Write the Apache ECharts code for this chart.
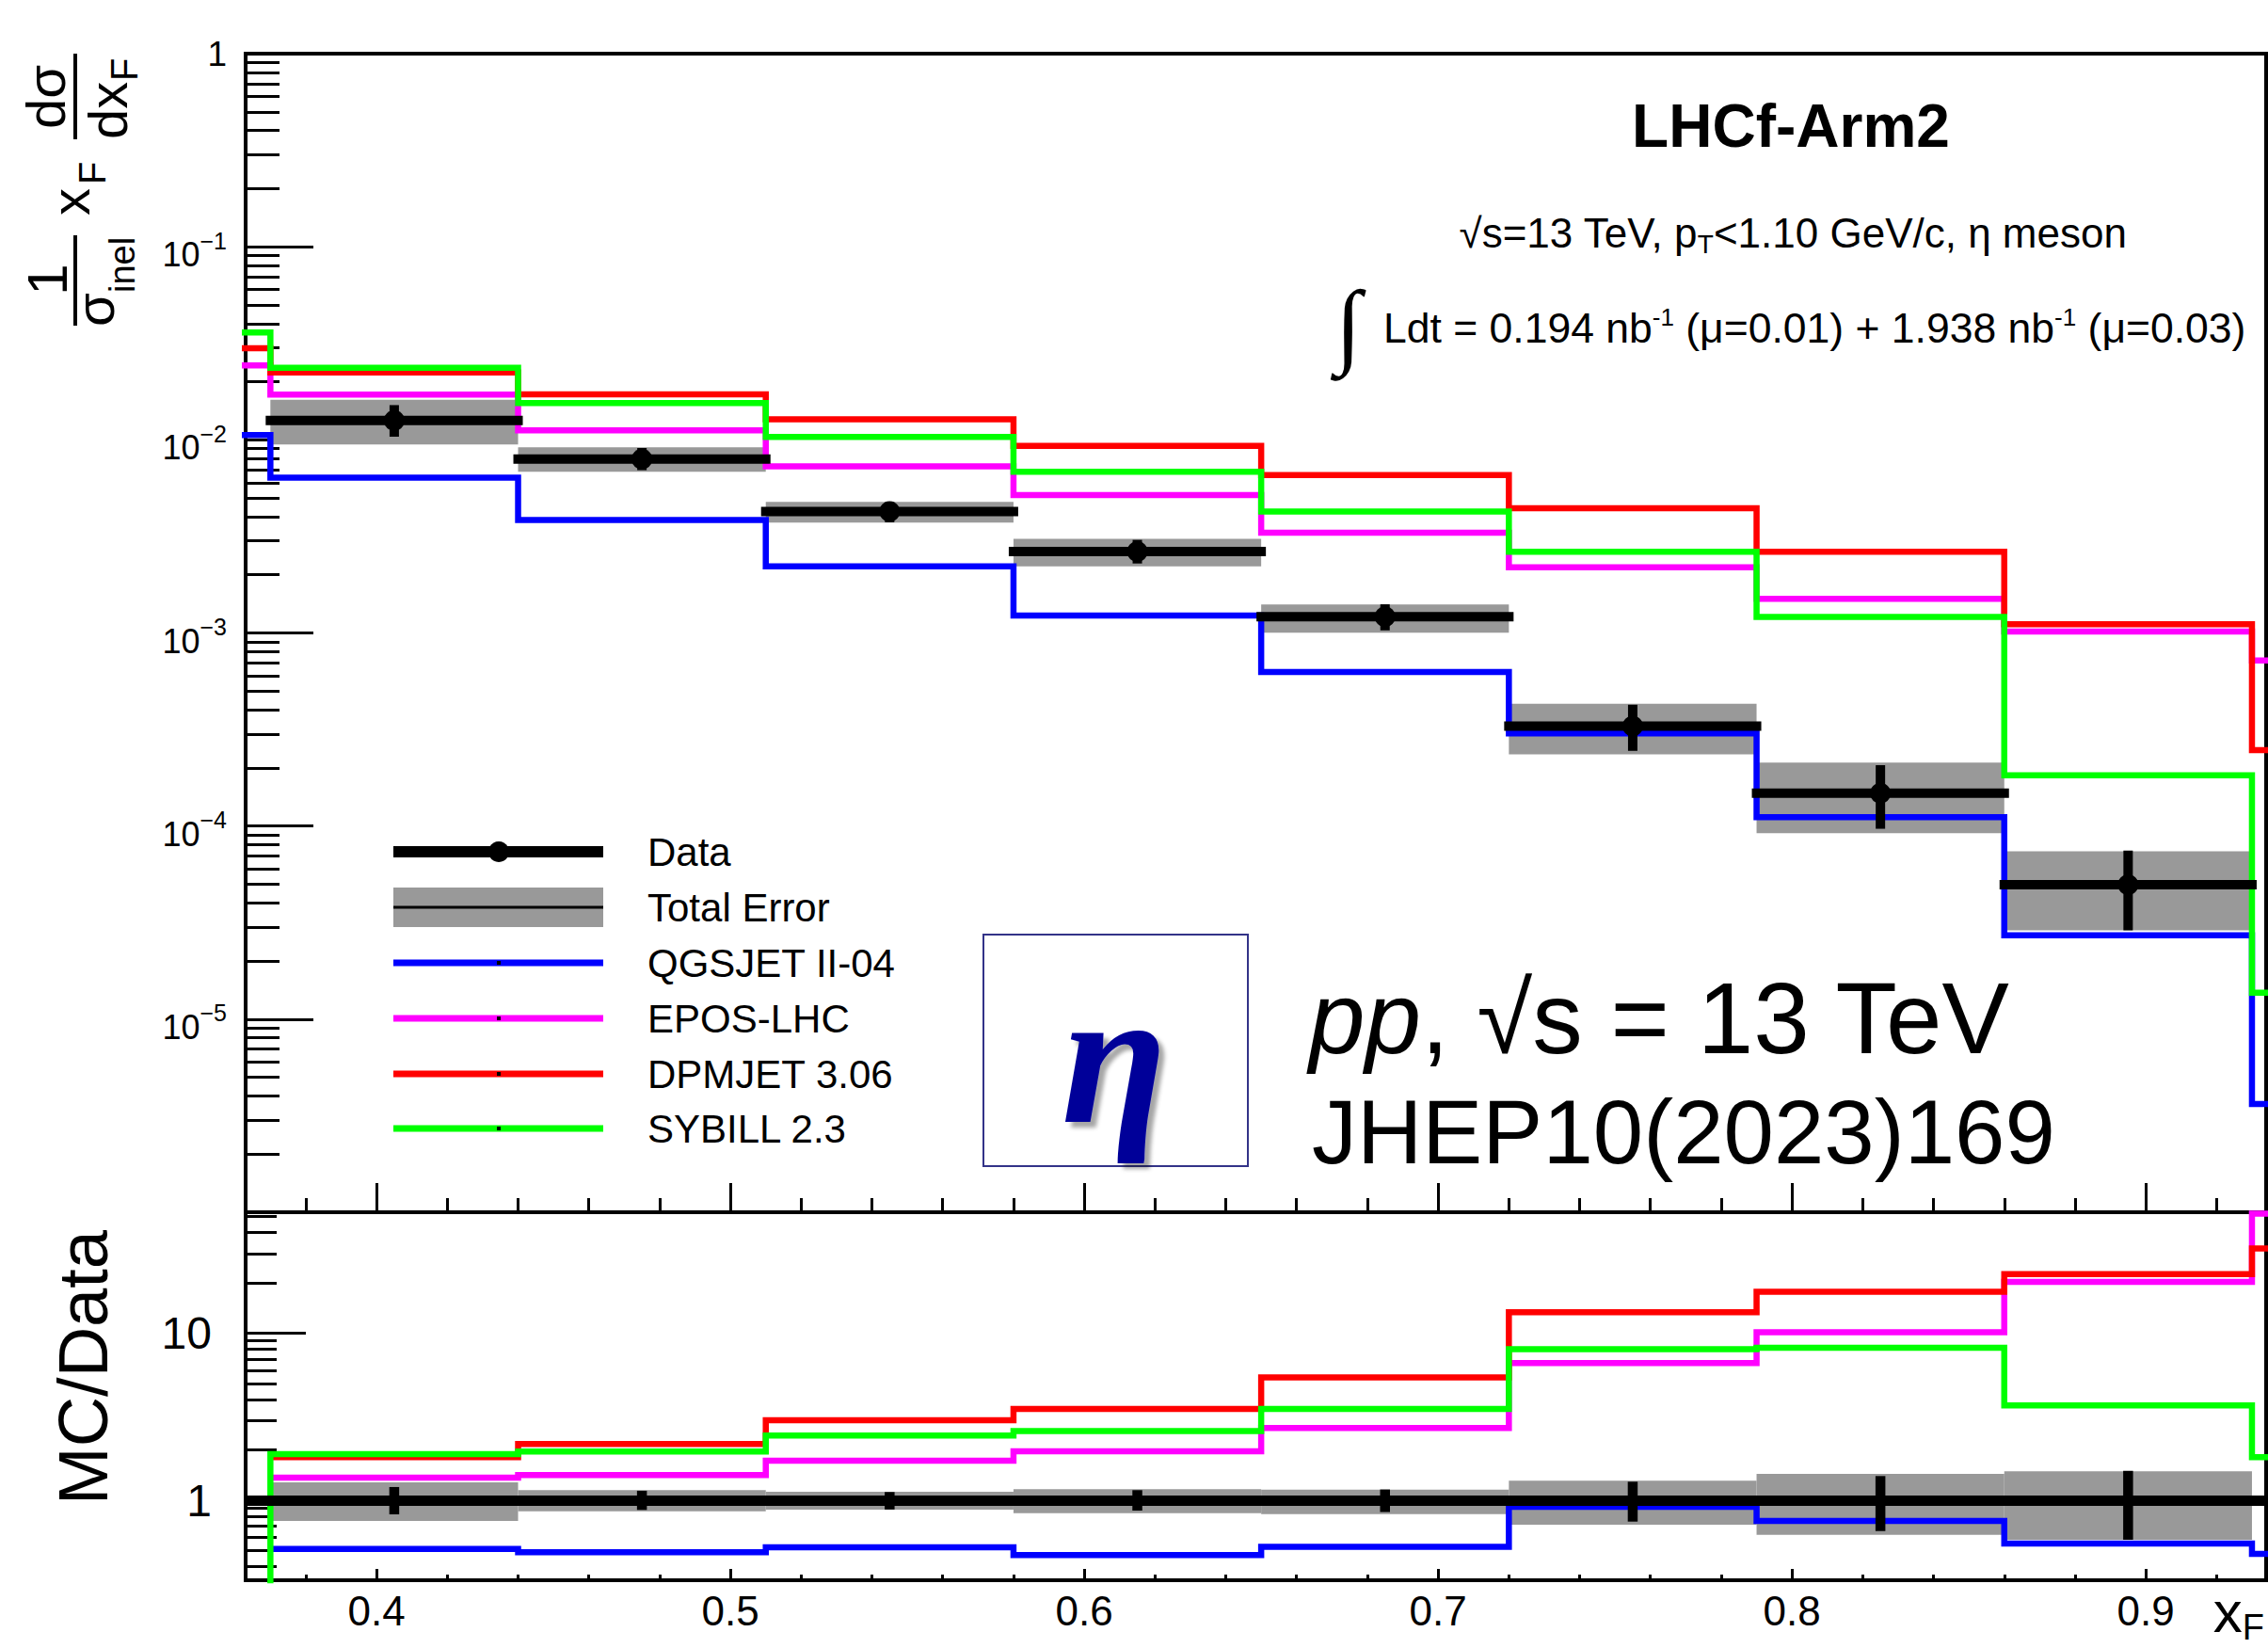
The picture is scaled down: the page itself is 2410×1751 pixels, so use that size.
<!DOCTYPE html>
<html><head><meta charset="utf-8">
<script src="https://cdn.jsdelivr.net/npm/echarts@6/dist/echarts.min.js"></script>
<style>html,body{margin:0;padding:0;background:#fff;}#c{width:2410px;height:1751px;}</style>
</head><body><div id="c"></div>
<script>
// ---------------- data ----------------
const edges = [0.30, 0.37, 0.44, 0.51, 0.58, 0.65, 0.72, 0.79, 0.86, 0.93, 1.00];   // MC histogram bin edges
const dataEdges = [0.37, 0.44, 0.51, 0.58, 0.65, 0.72, 0.79, 0.86, 0.93];           // data bin edges
const dataValues = [0.01261, 0.00796, 0.00425, 0.00264, 0.001213, 0.000329, 0.000148, 4.97e-5];
const statLo = [0.823, 0.875, 0.880, 0.867, 0.850, 0.745, 0.654, 0.580];  // relative stat error (ratio)
const statHi = [1.200, 1.140, 1.120, 1.149, 1.160, 1.291, 1.396, 1.500];
const totLo  = [0.751, 0.859, 0.878, 0.837, 0.826, 0.714, 0.621, 0.580];  // relative total error (ratio)
const totHi  = [1.280, 1.149, 1.124, 1.164, 1.158, 1.308, 1.438, 1.489];

const qgsjet = [0.0106, 0.00638, 0.00385, 0.00221, 0.00123, 0.000628, 0.000302, 0.000111, 2.72e-5, 3.64e-6];
const epos   = [0.0243, 0.01714, 0.01119, 0.00728, 0.00518, 0.00330, 0.00219, 0.00150, 0.001016, 0.000721];
const dpmjet = [0.0298, 0.0223, 0.0172, 0.01276, 0.0093, 0.00657, 0.00442, 0.00263, 0.00111, 0.000247];
const sybill = [0.0360, 0.0236, 0.01549, 0.01035, 0.00684, 0.00425, 0.00263, 0.00121, 0.000183, 1.37e-5];

const qgsjetRatio = [null, 0.511, 0.488, 0.522, 0.469, 0.527, 0.913, 0.751, 0.550, 0.477];
const eposRatio   = [null, 1.366, 1.414, 1.726, 1.963, 2.706, 6.63, 10.13, 20.3, 52.0];
const dpmjetRatio = [null, 1.81, 2.17, 3.015, 3.52, 5.43, 13.37, 17.7, 22.6, 32.2];
const sybillRatio = [0.1, 1.89, 1.956, 2.44, 2.592, 3.52, 8.02, 8.17, 3.70, 1.81];

const modelNames  = ['QGSJET II-04', 'EPOS-LHC', 'DPMJET 3.06', 'SYBILL 2.3'];
const modelColors = ['#0000ff', '#ff00ff', '#ff0000', '#00ff00'];
const legendNames = ['Data', 'Total Error'].concat(modelNames);

// tick values / labels
const xMajor = [0.4, 0.5, 0.6, 0.7, 0.8, 0.9];
const xMinor = [];
for (let i = 19; i <= 46; i++) { if (i % 5 !== 0) xMinor.push(+(i * 0.02).toFixed(2)); }
const yMainMajor = [1e-6, 1e-5, 1e-4, 1e-3, 1e-2, 1e-1, 1];
const yMainLabels = [1e-5, 1e-4, 1e-3, 1e-2, 1e-1, 1];
const yMainMinor = [];
for (let e = -6; e <= -1; e++) for (let m = 2; m <= 9; m++) yMainMinor.push(+(m * Math.pow(10, e)).toPrecision(3));
const yRatioMajor = [1, 10];
const yRatioMinor = [0.4, 0.5, 0.6, 0.7, 0.8, 0.9, 2, 3, 4, 5, 6, 7, 8, 9, 20, 30, 40, 50];

// ---------------- helpers ----------------
const FONT = 'Liberation Sans';
const BAND = '#999999';
function stepData(vals) {
  const pts = vals.map((v, i) => [edges[i], v]);
  pts.push([edges[edges.length - 1], vals[vals.length - 1]]);
  return pts;
}
const mainBands = dataValues.map((v, i) => [dataEdges[i], dataEdges[i + 1], v * totLo[i], v * totHi[i]]);
const ratioBands = dataValues.map((v, i) => [dataEdges[i], dataEdges[i + 1], totLo[i], totHi[i]]);
const mainPoints = dataValues.map((v, i) => [dataEdges[i], dataEdges[i + 1], v, v * statLo[i], v * statHi[i]]);
const ratioPoints = dataValues.map((v, i) => [(dataEdges[i] + dataEdges[i + 1]) / 2, statLo[i], statHi[i]]);
const ratioOnes = dataValues.map((v, i) => [(dataEdges[i] + dataEdges[i + 1]) / 2, v / v]);

function bandItem(params, api) {
  const a = api.coord([api.value(0), api.value(3)]);
  const b = api.coord([api.value(1), api.value(2)]);
  return { type: 'rect', shape: { x: a[0], y: a[1], width: b[0] - a[0], height: b[1] - a[1] }, style: { fill: BAND } };
}
function pointItem(params, api) {
  const lo = api.value(0), hi = api.value(1), v = api.value(2), el = api.value(3), eh = api.value(4);
  const c = (lo + hi) / 2;
  const pl = api.coord([lo, v]), ph = api.coord([hi, v]), pc = api.coord([c, v]);
  const e1 = api.coord([c, el]), e2 = api.coord([c, eh]);
  return { type: 'group', children: [
    { type: 'line', shape: { x1: pl[0], y1: pl[1], x2: ph[0], y2: ph[1] }, style: { stroke: '#000', lineWidth: 10, lineCap: 'square' } },
    { type: 'line', shape: { x1: e1[0], y1: e1[1], x2: e2[0], y2: e2[1] }, style: { stroke: '#000', lineWidth: 10 } },
    { type: 'circle', shape: { cx: pc[0], cy: pc[1], r: 11 }, style: { fill: '#000' } }
  ] };
}
function ratioBarItem(params, api) {
  const c = api.value(0);
  const e1 = api.coord([c, api.value(1)]), e2 = api.coord([c, api.value(2)]);
  return { type: 'line', shape: { x1: e1[0], y1: e1[1], x2: e2[0], y2: e2[1] }, style: { stroke: '#000', lineWidth: 10.5 } };
}

const XMIN = 0.363, XMAX = 0.934;
function xAx(grid, vals, len, labels) {
  return {
    type: 'value', gridIndex: grid, min: XMIN, max: XMAX, position: 'bottom',
    axisLine: { show: false }, splitLine: { show: false },
    axisTick: { show: true, inside: true, length: len, customValues: vals, lineStyle: { color: '#000', width: 3 } },
    axisLabel: labels ? { show: true, customValues: xMajor, color: '#000', fontFamily: FONT, fontSize: 44, margin: 10,
      formatter: v => v.toFixed(1) } : { show: false }
  };
}
function yAx(grid, min, max, vals, len, label) {
  return {
    type: 'log', logBase: 10, gridIndex: grid, min: min, max: max, position: 'left',
    axisLine: { show: false }, splitLine: { show: false }, minorTick: { show: false },
    axisTick: { show: true, inside: true, length: len, customValues: vals, lineStyle: { color: '#000', width: 3 } },
    axisLabel: label || { show: false }
  };
}
const mainYLabel = {
  show: true, customValues: yMainLabels, margin: 20, color: '#000', fontFamily: FONT,
  formatter: v => {
    if (v > 0.5) return '{o|1}';
    const e = Math.round(Math.log10(v));
    return '{b|10}{s|\u2212' + (-e) + '}';
  },
  rich: {
    o: { fontSize: 37, fontFamily: FONT, color: '#000' },
    b: { fontSize: 36, fontFamily: FONT, color: '#000', padding: [17, 0, 0, 0] },
    s: { fontSize: 25, fontFamily: FONT, color: '#000', padding: [0, 0, 13, 0] }
  }
};
const ratioYLabel = { show: true, customValues: yRatioMajor, margin: 36, color: '#000', fontFamily: FONT, fontSize: 48,
  formatter: v => String(Math.round(v)) };

const series = [];
// main panel
series.push({ type: 'custom', name: 'Total Error', xAxisIndex: 0, yAxisIndex: 0, z: 1, renderItem: bandItem, data: mainBands, clip: true });
[qgsjet, epos, dpmjet, sybill].forEach((vals, k) => series.push({
  type: 'line', name: modelNames[k], xAxisIndex: 0, yAxisIndex: 0, z: 2, step: 'end', symbol: 'none', clip: true,
  data: stepData(vals), lineStyle: { color: modelColors[k], width: 6.5, join: 'miter' }, itemStyle: { color: modelColors[k] }
}));
series.push({ type: 'custom', name: 'Data', xAxisIndex: 0, yAxisIndex: 0, z: 5, renderItem: pointItem, data: mainPoints, clip: false });
// ratio panel
series.push({ type: 'custom', name: 'Total Error ratio', xAxisIndex: 2, yAxisIndex: 2, z: 1, renderItem: bandItem, data: ratioBands, clip: true });
[qgsjetRatio, eposRatio, dpmjetRatio, sybillRatio].forEach((vals, k) => series.push({
  type: 'line', name: modelNames[k] + ' ratio', xAxisIndex: 2, yAxisIndex: 2, z: 2, step: 'end', symbol: 'none', clip: true,
  connectNulls: false, data: stepData(vals), lineStyle: { color: modelColors[k], width: 6.5, join: 'miter' }
}));
series.push({ type: 'line', name: 'Data ratio', xAxisIndex: 2, yAxisIndex: 2, z: 3, symbol: 'none', data: ratioOnes,
  lineStyle: { opacity: 0 },
  markLine: { silent: true, symbol: 'none', label: { show: false }, animation: false,
    lineStyle: { color: '#000', width: 11, type: 'solid' }, data: [{ yAxis: 1 }] } });
series.push({ type: 'custom', name: 'Data stat ratio', xAxisIndex: 2, yAxisIndex: 2, z: 4, renderItem: ratioBarItem, data: ratioPoints, clip: true });

// ---------------- graphic (text, legend, box) ----------------
const T = (x, y, text, size, extra) => Object.assign({ type: 'text', x: x, y: y, z: 50,
  style: Object.assign({ text: text, fontSize: size, fontFamily: FONT, fill: '#000', align: 'left', verticalAlign: 'middle' }, extra || {}) });
const graphics = [];
// y title main (rotated)
graphics.push({ type: 'group', x: 80, y: 360, rotation: Math.PI / 2, z: 50, children: [
  T(63, -30, '1', 60, { align: 'center' }),
  { type: 'line', shape: { x1: 14, y1: 0, x2: 110, y2: 0 }, style: { stroke: '#000', lineWidth: 4 } },
  T(13, 20, '\u03c3', 58),
  T(49, 50, 'inel', 38),
  T(131, -6, 'x', 58),
  T(164, 18, 'F', 40),
  { type: 'line', shape: { x1: 212, y1: 0, x2: 303, y2: 0 }, style: { stroke: '#000', lineWidth: 4 } },
  T(257, -32, 'd\u03c3', 58, { align: 'center' }),
  T(212, 34, 'dx', 58),
  T(274, 52, 'F', 40)
] });
// ratio y title
graphics.push({ type: 'text', x: 88, y: 1453, rotation: Math.PI / 2, z: 50,
  style: { text: 'MC/Data', fontSize: 74, fontFamily: FONT, fill: '#000', align: 'center', verticalAlign: 'middle' } });
// x title (bottom-right corner)
graphics.push({ type: 'text', x: 2406, y: 1712, z: 50, style: { align: 'right', verticalAlign: 'middle', fill: '#000',
  text: '{a|x}{b|F}', rich: { a: { fontSize: 62, fontFamily: FONT, fill: '#000' }, b: { fontSize: 38, fontFamily: FONT, fill: '#000', padding: [34, 0, 0, 0] } } } });
// header texts
graphics.push(T(1903, 134, 'LHCf-Arm2', 64, { align: 'center', fontWeight: 'bold' }));
graphics.push({ type: 'text', x: 1905, y: 247, z: 50, style: { align: 'center', verticalAlign: 'middle', fill: '#000',
  text: '{n|\u221As=13 TeV, p}{t|T}{n|<1.10 GeV/c, \u03b7 meson}',
  rich: { n: { fontSize: 44, fontFamily: FONT, fill: '#000' }, t: { fontSize: 28, fontFamily: FONT, fill: '#000', padding: [24, 0, 0, 0] } } } });
graphics.push(T(1433, 344, '\u222B', 100, { align: 'center', fontFamily: 'Liberation Serif' }));
graphics.push({ type: 'text', x: 1470, y: 348, z: 50, style: { align: 'left', verticalAlign: 'middle', fill: '#000',
  text: '{n|Ldt = 0.194 nb}{s|-1}{n| (\u03bc=0.01) + 1.938 nb}{s|-1}{n| (\u03bc=0.03)}',
  rich: { n: { fontSize: 44.5, fontFamily: FONT, fill: '#000' }, s: { fontSize: 26, fontFamily: FONT, fill: '#000', padding: [0, 0, 22, 0] } } } });
// big annotation
graphics.push({ type: 'text', x: 1391, y: 1082, z: 50, style: { align: 'left', verticalAlign: 'middle', fill: '#000',
  text: '{i|pp}{n|, \u221As = 13 TeV}',
  rich: { i: { fontSize: 107, fontFamily: FONT, fontStyle: 'italic', fill: '#000' }, n: { fontSize: 107, fontFamily: FONT, fill: '#000' } } } });
graphics.push(T(1394, 1202, 'JHEP10(2023)169', 96));
// eta box
graphics.push({ type: 'rect', z: 40, shape: { x: 1045, y: 993, width: 281, height: 246 }, style: { fill: '#fff', stroke: '#333388', lineWidth: 2 } });
graphics.push(T(1184, 1122, '\u03b7', 205, { align: 'center', fontFamily: 'Liberation Serif', fontWeight: 'bold', fontStyle: 'italic', fill: '#000099',
  textShadowColor: 'rgba(0,0,0,0.35)', textShadowBlur: 4, textShadowOffsetX: 6, textShadowOffsetY: 6 }));
// legend
const legY = [905, 964, 1023, 1082, 1141, 1199];
const LX1 = 418, LX2 = 641, LXC = 530;
graphics.push({ type: 'line', z: 45, shape: { x1: LX1, y1: legY[0], x2: LX2, y2: legY[0] }, style: { stroke: '#000', lineWidth: 12 } });
graphics.push({ type: 'circle', z: 46, shape: { cx: LXC, cy: legY[0], r: 11 }, style: { fill: '#000' } });
graphics.push({ type: 'rect', z: 45, shape: { x: LX1, y: legY[1] - 21, width: LX2 - LX1, height: 42 }, style: { fill: BAND } });
graphics.push({ type: 'line', z: 46, shape: { x1: LX1, y1: legY[1], x2: LX2, y2: legY[1] }, style: { stroke: '#000', lineWidth: 3 } });
modelColors.forEach((c, k) => {
  const y = legY[k + 2];
  graphics.push({ type: 'line', z: 45, shape: { x1: LX1, y1: y, x2: LX2, y2: y }, style: { stroke: c, lineWidth: 7 } });
  graphics.push({ type: 'rect', z: 46, shape: { x: LXC - 2, y: y - 2, width: 4, height: 4 }, style: { fill: '#000' } });
});
legendNames.forEach((n, k) => graphics.push(T(688, legY[k], n, 42)));

const option = {
  animation: false,
  backgroundColor: '#fff',
  textStyle: { fontFamily: FONT },
  grid: [
    { left: 261, top: 57, width: 2147, height: 1231, show: true, borderColor: '#000', borderWidth: 4, backgroundColor: 'transparent', containLabel: false, outerBoundsMode: 'none' },
    { left: 261, top: 1288, width: 2147, height: 391, show: true, borderColor: '#000', borderWidth: 4, backgroundColor: 'transparent', containLabel: false, outerBoundsMode: 'none' }
  ],
  xAxis: [ xAx(0, xMajor, 31, false), xAx(0, xMinor, 15, false), xAx(1, xMajor, 12, true), xAx(1, xMinor, 6, false) ],
  yAxis: [ yAx(0, 1e-6, 1, yMainMajor, 72, mainYLabel), yAx(0, 1e-6, 1, yMainMinor, 36, null),
           yAx(1, 0.332, 53, yRatioMajor, 64, ratioYLabel), yAx(1, 0.332, 53, yRatioMinor, 33, null) ],
  series: series,
  graphic: { elements: graphics }
};
const chart = echarts.init(document.getElementById('c'), null, { renderer: 'svg', width: 2410, height: 1751 });
chart.setOption(option);
</script></body></html>
